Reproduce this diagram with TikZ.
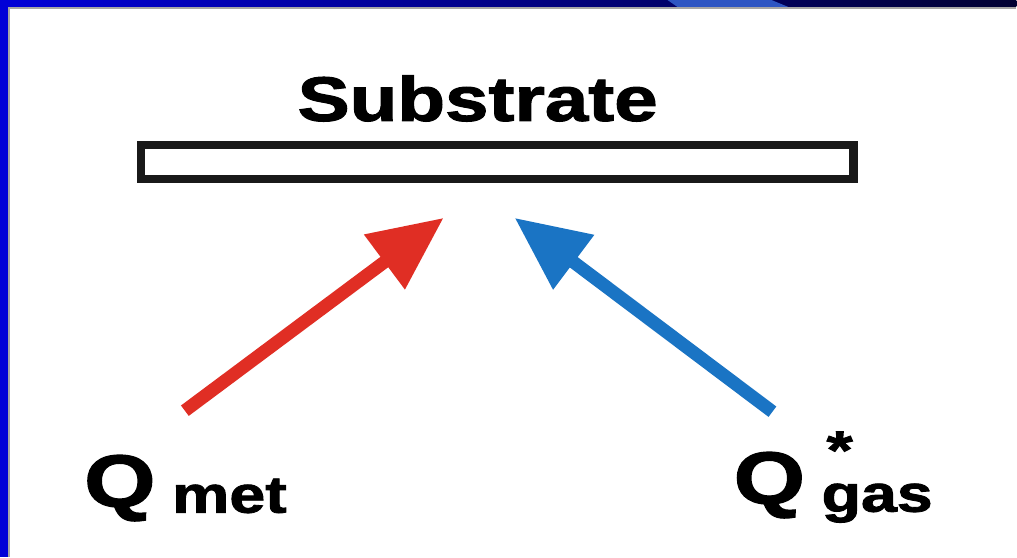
\documentclass[tikz,border=0pt]{standalone}
\usepackage{fontspec}
\setmainfont{Liberation Sans}
\newfontfamily\blackfont{Liberation Sans Bold}[FakeBold=1.6]
\usetikzlibrary{arrows.meta}

\definecolor{slideblue}{RGB}{0,0,215}
\definecolor{slidenavy}{RGB}{0,0,50}
\definecolor{stripeblue}{RGB}{45,85,195}
\definecolor{metred}{RGB}{224,46,36}
\definecolor{gasblue}{RGB}{26,116,196}

\begin{document}
\begin{tikzpicture}[
  x=1pt, y=-1pt,
  >={Triangle[length=74pt, width=65pt]},
  heavy/.style={inner sep=0pt, font=\blackfont, xscale=1.24, transform shape},
  bigq/.style={heavy, font=\fontsize{74}{80}\selectfont\blackfont},
  subtxt/.style={heavy, font=\fontsize{52}{56}\selectfont\blackfont},
  plate/.style={
    rectangle, draw=black!90, line width=8.5pt, fill=white,
    minimum width=713pt, minimum height=34pt, inner sep=0pt
  },
  heat/.style={->, line width=13pt}
]

% slide frame
\fill[white] (0,0) rectangle (1017,557);
\fill[slideblue] (0,0) rectangle (8,557);
\shade[left color=slideblue, right color=slidenavy] (8,0) rectangle (1017,7);
\fill[stripeblue] (668,0) -- (772,0) -- (789,7) -- (678,7) -- cycle;
\draw[black!35, line width=1.5pt] (9,557) -- (9,8) -- (1017,8);
\useasboundingbox (0,0) rectangle (1017,557);

\node[plate] (plate) at (497.5,162) {};
\node[heavy, font=\fontsize{63}{68}\selectfont\blackfont, anchor=base]
  (substrate) at (478,121) {Substrate};

\node[bigq, anchor=base west] (qmet) at (84,507) {Q};
\node[subtxt, anchor=base west] (met) at (172,513) {met};

\node[bigq, anchor=base west] (qgas) at (734,504) {Q};
\node[subtxt, anchor=base west] (gas) at (822,512) {gas};
\node[heavy, font=\fontsize{54}{58}\selectfont\blackfont, anchor=base west]
  (star) at (827,469) {*};

\coordinate (metfoot) at (185,411);
\coordinate (methit) at (444,218);
\coordinate (gasfoot) at (773,412);
\coordinate (gashit) at (515,218);

\draw[heat, metred] (metfoot) -- (methit);
\draw[heat, gasblue] (gasfoot) -- (gashit);

\end{tikzpicture}
\end{document}
